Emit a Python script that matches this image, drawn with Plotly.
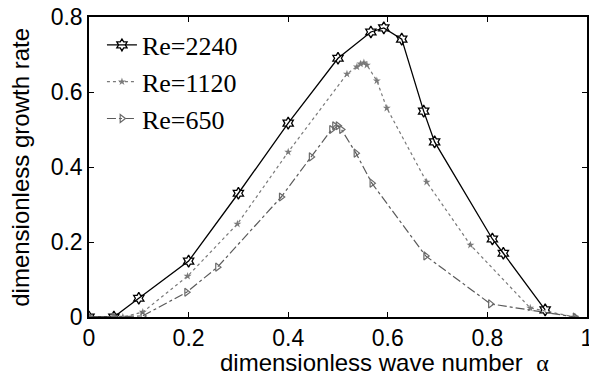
import plotly.graph_objects as go

# Re = 2240
x2240 = [0.0, 0.05, 0.10, 0.20, 0.30, 0.40, 0.50, 0.566, 0.592, 0.628, 0.672, 0.694, 0.81, 0.832, 0.916]
y2240 = [0.0, 0.0, 0.05, 0.149, 0.33, 0.517, 0.69, 0.76, 0.771, 0.741, 0.549, 0.467, 0.208, 0.17, 0.019]

# Re = 1120
x1120 = [0.0, 0.05, 0.068, 0.108, 0.198, 0.298, 0.40, 0.518, 0.538, 0.545, 0.552, 0.558, 0.578, 0.598, 0.678, 0.766, 0.886, 0.976]
y1120 = [0.0, 0.0, 0.0, 0.013, 0.109, 0.248, 0.44, 0.648, 0.667, 0.675, 0.678, 0.672, 0.63, 0.557, 0.36, 0.192, 0.024, 0.0]

# Re = 650
x650 = [0.0, 0.05, 0.108, 0.196, 0.258, 0.386, 0.446, 0.487, 0.493, 0.50, 0.507, 0.536, 0.568, 0.676, 0.806, 0.976]
y650 = [0.0, 0.0, 0.003, 0.066, 0.133, 0.32, 0.427, 0.50, 0.51, 0.51, 0.50, 0.437, 0.357, 0.163, 0.035, 0.0]

xticks = [0, 0.2, 0.4, 0.6, 0.8, 1]
xticklabels = ["0", "0.2", "0.4", "0.6", "0.8", "1"]
yticks = [0, 0.2, 0.4, 0.6, 0.8]
yticklabels = ["0", "0.2", "0.4", "0.6", "0.8"]

xtitle = "dimensionless wave number  <span style='font-family:Liberation Serif'>α</span>"
ytitle = "dimensionless growth rate"

fig = go.Figure()
fig.add_trace(go.Scatter(
    x=x2240, y=y2240, name="Re=2240", mode="lines+markers",
    line=dict(color="black", width=1.3, dash="solid"),
    marker=dict(symbol="hexagram-open", size=9, color="black", line=dict(width=1.3, color="black")),
))
fig.add_trace(go.Scatter(
    x=x1120, y=y1120, name="Re=1120", mode="lines+markers",
    line=dict(color="#7a7a7a", width=1.2, dash="dot"),
    marker=dict(symbol="star", size=6, color="#7a7a7a", line=dict(width=0)),
))
fig.add_trace(go.Scatter(
    x=x650, y=y650, name="Re=650", mode="lines+markers",
    line=dict(color="#5a5a5a", width=1.2, dash="dashdot"),
    marker=dict(symbol="triangle-right-open", size=7, color="#6a6a6a", line=dict(width=1.2, color="#6a6a6a")),
))

axis_common = dict(
    showgrid=False, zeroline=False, showline=True, linecolor="black", linewidth=1.5,
    mirror="ticks", ticks="inside", ticklen=5, tickwidth=1, tickcolor="black",
    tickfont=dict(family="Liberation Sans, Arial", size=23, color="black"),
    automargin=False, ticklabeloverflow="allow",
)

fig.update_layout(
    width=589, height=377,
    margin=dict(l=89, r=2, t=17, b=60),
    paper_bgcolor="white", plot_bgcolor="white",
    showlegend=True,
    legend=dict(
        x=0.026, y=0.985, xanchor="left", yanchor="top",
        bgcolor="rgba(0,0,0,0)", borderwidth=0,
        font=dict(family="Liberation Serif, Times New Roman", size=26, color="black"),
        itemwidth=30, tracegroupgap=0,
    ),
    xaxis=dict(range=[0, 1], tickvals=xticks, ticktext=xticklabels, **axis_common),
    yaxis=dict(range=[0, 0.8], tickvals=yticks, ticktext=yticklabels, ticklabelstandoff=0, **axis_common),
    annotations=[
        dict(text=xtitle, xref="paper", yref="paper", x=0.593, y=-0.152, xanchor="center", yanchor="middle",
             showarrow=False, font=dict(family="Liberation Sans, Arial", size=24, color="black")),
        dict(text=ytitle, xref="paper", yref="paper", x=-0.139, y=0.5, xanchor="center", yanchor="middle",
             textangle=-90, showarrow=False, font=dict(family="Liberation Sans, Arial", size=24, color="black")),
    ],
)

fig.write_html(
    "out.html",
    config={"displayModeBar": False},
    post_script="document.body.style.margin='0';document.body.style.overflow='hidden';",
)
